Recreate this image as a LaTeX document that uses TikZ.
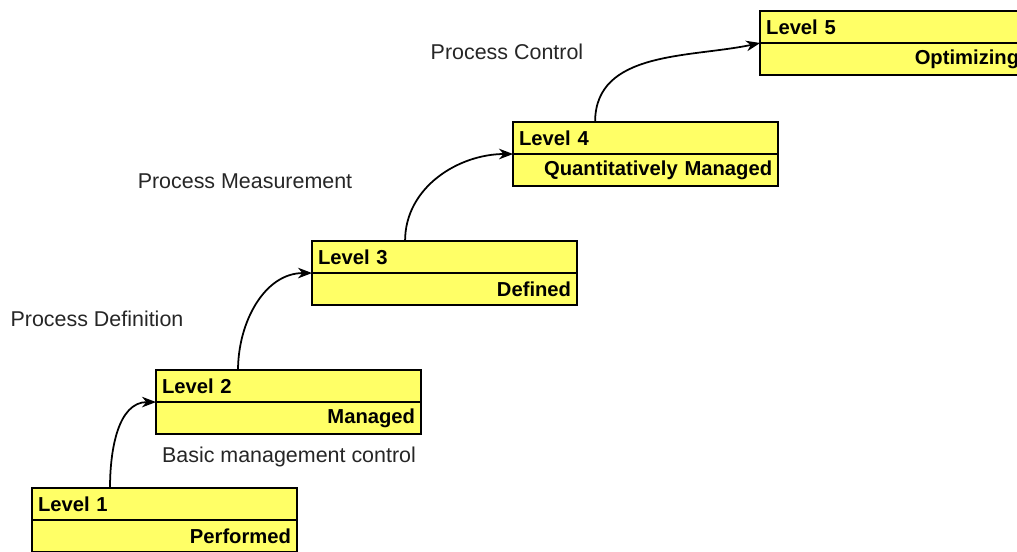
\documentclass[tikz,border=0pt]{standalone}
\usepackage{fontspec}
\setmainfont{Liberation Sans}
\usetikzlibrary{positioning,arrows.meta}
\definecolor{lvyellow}{RGB}{255,255,102}
\tikzset{
  lvtop/.style={draw, fill=lvyellow, line width=1pt, outer sep=0pt, anchor=north west,
    minimum width=5.3cm, minimum height=0.64cm, inner xsep=0.12cm, text width=5.06cm,
    align=left, font=\fontsize{11.5}{13}\selectfont\bfseries},
  lvbot/.style={lvtop, align=right},
  steplabel/.style={font=\fontsize{12.2}{14}\selectfont, text=black!85},
  flow/.style={-{Stealth[length=8pt,width=6pt,inset=2.5pt]}, line width=1pt}
}
\begin{document}
\begin{tikzpicture}
				\clip (0,0) rectangle (20.34,-11.04);
				\foreach \n/\x/\y/\name in {1/32/488/Performed, 2/156/370/Managed, 3/312/241/Defined, 4/513/122/Quantitatively Managed, 5/760/11/Optimizing} {
				  \node[lvtop] (L\n) at ({\x*0.02},{-\y*0.02}) {Level \n};
				  \node[lvbot, below=0pt of L\n] (D\n) {\name};
				}
				\node[steplabel] (basic) at (5.78,-9.14) {Basic management control};
				\node[steplabel] (pdef) at (1.94,-6.38) {Process Definition};
				\node[steplabel] (pmeas) at (4.90,-3.62) {Process Measurement};
				\node[steplabel] (pctrl) at (10.14,-1.04) {Process Control};
				\draw[flow] ([xshift=1.56cm]L1.north west) to[out=90,in=180] (D2.north west);
				\draw[flow] ([xshift=1.64cm]L2.north west) to[out=90,in=180] (D3.north west);
				\draw[flow] ([xshift=1.86cm]L3.north west) to[out=90,in=180] (D4.north west);
				\draw[flow] ([xshift=1.64cm]L4.north west) to[out=90,in=192] (D5.north west);
				\end{tikzpicture}
\end{document}
